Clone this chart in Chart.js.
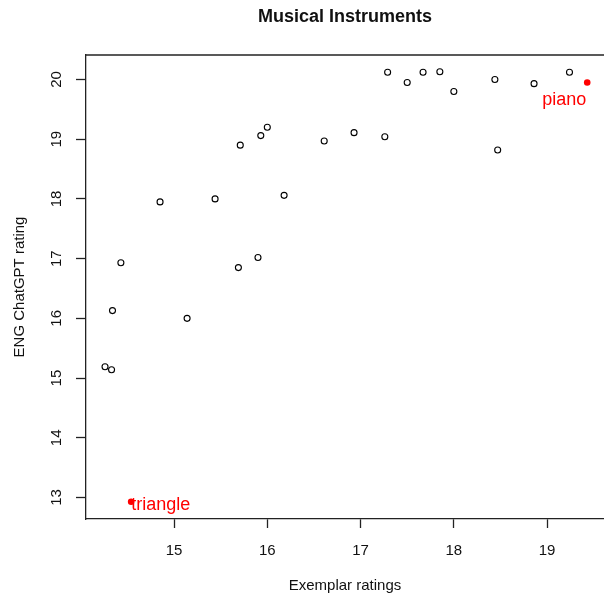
<!DOCTYPE html>
<html>
<head>
<meta charset="utf-8">
<script src="https://cdn.jsdelivr.net/npm/chart.js@4"></script>
<style>
  html, body { margin: 0; padding: 0; background: #ffffff; }
  #wrap { width: 604px; height: 600px; position: relative; }
</style>
</head>
<body>
<div id="wrap"><canvas id="scatter"></canvas></div>
<script>
'use strict';

/* ── Data: exemplar rating vs. ChatGPT rating per instrument ── */
var exemplarRatings = [17.29, 17.50, 17.67, 17.85, 18.00, 18.44, 18.86, 19.24,
                       15.71, 15.93, 16.00, 16.61, 16.93, 17.26, 18.47,
                       14.85, 15.44, 16.18, 14.43, 15.69, 15.90,
                       14.34, 15.14, 14.26, 14.33];
var chatgptRatings  = [20.12, 19.95, 20.12, 20.13, 19.80, 20.00, 19.93, 20.12,
                       18.90, 19.06, 19.20, 18.97, 19.11, 19.04, 18.82,
                       17.95, 18.00, 18.06, 16.93, 16.85, 17.02,
                       16.13, 16.00, 15.19, 15.14];

/* highlighted items */
var highlightNames     = ['piano', 'triangle'];
var highlightExemplar  = [19.43, 14.54];
var highlightChatgpt   = [19.95, 12.93];

var xTickValues = [15, 16, 17, 18, 19];
var yTickValues = [13, 14, 15, 16, 17, 18, 19, 20];

var FONT = "'Liberation Sans', Arial, sans-serif";

/* ── Plugin: box top edge, rotated y ticks, titles, point labels ── */
var rDecor = {
  id: 'rDecor',
  afterDraw: function (chart) {
    var ctx = chart.ctx, a = chart.chartArea;
    var ys = chart.scales.y, xs = chart.scales.x;
    ctx.save();

    // top edge of the box
    ctx.strokeStyle = '#222';
    ctx.lineWidth = 1.3;
    ctx.beginPath();
    ctx.moveTo(a.left, a.top);
    ctx.lineTo(a.right, a.top);
    ctx.stroke();

    ctx.fillStyle = '#111';
    ctx.textAlign = 'center';
    ctx.textBaseline = 'middle';

    // y tick labels, vertical
    ctx.font = '15px ' + FONT;
    yTickValues.forEach(function (v) {
      var py = ys.getPixelForValue(v);
      ctx.save();
      ctx.translate(57, py);
      ctx.rotate(-Math.PI / 2);
      ctx.fillText(String(v), 0, 0);
      ctx.restore();
    });

    // main title
    ctx.font = 'bold 18px ' + FONT;
    ctx.fillText('Musical Instruments', (a.left + a.right) / 2, 17);

    // axis titles
    ctx.font = '15px ' + FONT;
    ctx.fillText('Exemplar ratings', (a.left + a.right) / 2, 586);
    ctx.save();
    ctx.translate(20, (a.top + a.bottom) / 2);
    ctx.rotate(-Math.PI / 2);
    ctx.fillText('ENG ChatGPT rating', 0, 0);
    ctx.restore();

    // red labels next to highlighted points
    ctx.fillStyle = '#ff0000';
    ctx.font = '18px ' + FONT;
    var px0 = xs.getPixelForValue(highlightExemplar[0]);
    var py0 = ys.getPixelForValue(highlightChatgpt[0]);
    ctx.textAlign = 'right';
    ctx.fillText(highlightNames[0], px0 - 1, py0 + 18);
    var px1 = xs.getPixelForValue(highlightExemplar[1]);
    var py1 = ys.getPixelForValue(highlightChatgpt[1]);
    ctx.textAlign = 'left';
    ctx.fillText(highlightNames[1], px1, py1 + 3);

    ctx.restore();
  }
};

var mainPoints = exemplarRatings.map(function (x, i) { return { x: x, y: chatgptRatings[i] }; });
var redPoints  = highlightExemplar.map(function (x, i) { return { x: x, y: highlightChatgpt[i] }; });

new Chart(document.getElementById('scatter'), {
  type: 'scatter',
  data: {
    datasets: [
      { data: mainPoints, pointStyle: 'circle', pointRadius: 3,
        borderColor: '#000', backgroundColor: 'rgba(0,0,0,0)', borderWidth: 1.1 },
      { data: redPoints, pointStyle: 'circle', pointRadius: 3.3,
        borderColor: '#ff0000', backgroundColor: '#ff0000', borderWidth: 0 }
    ]
  },
  options: {
    responsive: true, maintainAspectRatio: false, animation: false,
    layout: { autoPadding: false, padding: { top: 55, left: 0, right: 0, bottom: 0 } },
    plugins: { legend: { display: false }, tooltip: { enabled: false } },
    scales: {
      x: {
        type: 'linear', min: 14.056, max: 19.61,
        afterFit: function (s) { s.height = 81; },
        afterBuildTicks: function (s) { s.ticks = xTickValues.map(function (v) { return { value: v }; }); },
        border: { display: true, color: '#222', width: 1.3 },
        grid: { drawOnChartArea: false, drawTicks: true, tickLength: 9, color: '#222', tickWidth: 1.3 },
        ticks: { color: '#111', font: { family: FONT, size: 15 }, padding: 14 }
      },
      y: {
        type: 'linear', min: 12.64, max: 20.41,
        afterFit: function (s) { s.width = 86; },
        afterBuildTicks: function (s) { s.ticks = yTickValues.map(function (v) { return { value: v }; }); },
        border: { display: true, color: '#222', width: 1.3 },
        grid: { drawOnChartArea: false, drawTicks: true, tickLength: 10, color: '#222', tickWidth: 1.3 },
        ticks: { display: false }
      }
    }
  },
  plugins: [rDecor]
});
</script>
</body>
</html>
